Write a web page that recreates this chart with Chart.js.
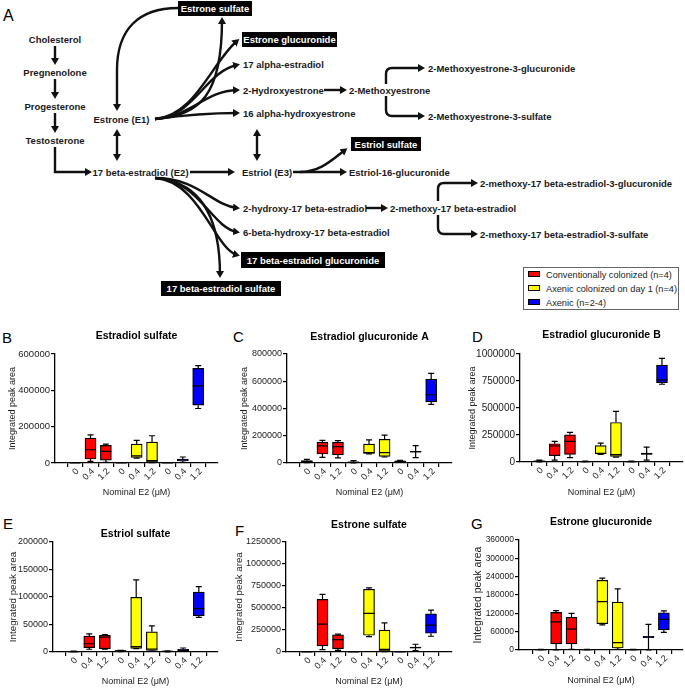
<!DOCTYPE html>
<html><head><meta charset="utf-8">
<script src="https://cdn.jsdelivr.net/npm/chart.js@4"></script>
<style>
html,body{margin:0;padding:0;background:#fff;}
#wrap{position:relative;width:685px;height:688px;overflow:hidden;font-family:"Liberation Sans",Arial,sans-serif;}
canvas{position:absolute;}
svg{position:absolute;left:0;top:0;}
.letter{position:absolute;color:#000;white-space:nowrap;}
#legend{position:absolute;left:523px;top:267px;width:156px;height:43px;border:1px solid #666;box-sizing:border-box;}
.li{position:absolute;left:4px;font-size:9.2px;color:#222;white-space:nowrap;line-height:11px;}
.sw{display:inline-block;width:10px;height:4px;border:1px solid #000;vertical-align:middle;margin-right:6px;position:relative;top:-1px;}
</style>
</head><body>
<div id="wrap">
<svg width="685" height="315" viewBox="0 0 685 315" font-family="Liberation Sans, Arial, sans-serif" font-weight="bold" font-size="9.5">
<defs>
<marker id="ah" viewBox="0 0 7 8" refX="4" refY="4" markerWidth="7" markerHeight="8" markerUnits="userSpaceOnUse" orient="auto-start-reverse">
<path d="M0,0 L7,4 L0,8 z" fill="#111"/>
</marker>
</defs>
<g fill="none" stroke="#111" stroke-width="2.4">
<path d="M55,46 L55,62" marker-end="url(#ah)"/>
<path d="M55,79 L55,96" marker-end="url(#ah)"/>
<path d="M55,113 L55,130" marker-end="url(#ah)"/>
<path d="M55,147 L55,172 L89,172" marker-end="url(#ah)"/>
<path d="M178,8 C138,8 117,30 117,70 L117,108" marker-end="url(#ah)"/>
<path d="M117,132 L117,158" marker-start="url(#ah)" marker-end="url(#ah)"/>
<path d="M155,119 C200,116 222,95 222,20" marker-end="url(#ah)"/>
<path d="M155,119 C195,116 212,62 237,41" marker-end="url(#ah)"/>
<path d="M155,119 C195,116 205,72 237,65" marker-end="url(#ah)"/>
<path d="M155,119 C192,116 205,91 237,90" marker-end="url(#ah)"/>
<path d="M155,119 C185,115 205,113 237,113" marker-end="url(#ah)"/>
<path d="M324,90 L344,90" marker-end="url(#ah)"/>
<path d="M386,84 L386,74 Q386,68 392,68 L422,68" marker-end="url(#ah)"/>
<path d="M386,96 L386,110 Q386,116 392,116 L422,116" marker-end="url(#ah)"/>
<path d="M257,132 L257,158" marker-start="url(#ah)" marker-end="url(#ah)"/>
<path d="M190,172 L232,172" marker-end="url(#ah)"/>
<path d="M293,172 L344,172" marker-end="url(#ah)"/>
<path d="M300,172 C320,172 332,160 345,150" marker-end="url(#ah)"/>
<path d="M155,178 C198,178 212,205 237,208" marker-end="url(#ah)"/>
<path d="M155,178 C198,179 212,228 237,232" marker-end="url(#ah)"/>
<path d="M155,178 C200,181 214,248 237,255" marker-end="url(#ah)"/>
<path d="M155,178 C205,182 220,225 220,275" marker-end="url(#ah)"/>
<path d="M366,208 L385,208" marker-end="url(#ah)"/>
<path d="M438,201 L438,189 Q438,183 444,183 L475,183" marker-end="url(#ah)"/>
<path d="M438,215 L438,228 Q438,234 444,234 L475,234" marker-end="url(#ah)"/>
</g>
<g fill="#1a1a1a" dominant-baseline="central">
<text x="55" y="39" text-anchor="middle">Cholesterol</text>
<text x="55" y="72" text-anchor="middle">Pregnenolone</text>
<text x="55" y="106" text-anchor="middle">Progesterone</text>
<text x="55" y="140" text-anchor="middle">Testosterone</text>
<text x="121.5" y="119" text-anchor="middle">Estrone (E1)</text>
<text x="243" y="64">17 alpha-estradiol</text>
<text x="243" y="90">2-Hydroxyestrone</text>
<text x="243" y="113">16 alpha-hydroxyestrone</text>
<text x="349" y="90">2-Methoxyestrone</text>
<text x="428" y="68">2-Methoxyestrone-3-glucuronide</text>
<text x="428" y="116">2-Methoxyestrone-3-sulfate</text>
<text x="140.5" y="172" text-anchor="middle">17 beta-estradiol (E2)</text>
<text x="242" y="172">Estriol (E3)</text>
<text x="349" y="172">Estriol-16-glucuronide</text>
<text x="243" y="208">2-hydroxy-17 beta-estradiol</text>
<text x="243" y="232">6-beta-hydroxy-17 beta-estradiol</text>
<text x="390" y="208">2-methoxy-17 beta-estradiol</text>
<text x="480" y="183">2-methoxy-17 beta-estradiol-3-glucuronide</text>
<text x="480" y="234">2-methoxy-17 beta-estradiol-3-sulfate</text>
</g>
<g fill="#000">
<rect x="178" y="1" width="74" height="15"/>
<rect x="242" y="32" width="95" height="15"/>
<rect x="351" y="137" width="70" height="14"/>
<rect x="241" y="252" width="144" height="16"/>
<rect x="161" y="281" width="120" height="15"/>
</g>
<g fill="#fff" dominant-baseline="central" text-anchor="middle">
<text x="215" y="8.5">Estrone sulfate</text>
<text x="289.5" y="39.5">Estrone glucuronide</text>
<text x="386" y="144">Estriol sulfate</text>
<text x="313" y="260">17 beta-estradiol glucuronide</text>
<text x="221" y="288.5">17 beta-estradiol sulfate</text>
</g>
</svg>
<div id="legend"></div>
</div>
<script>
// ---- data ----
const doses = ['0', '0.4', '1.2'];
const groups = ['Conventionally colonized (n=4)', 'Axenic colonized on day 1 (n=4)', 'Axenic (n=2-4)'];
const groupColors = ['#ff0000', '#ffff00', '#0000ff'];
const panelLetters = ['B', 'C', 'D', 'E', 'F', 'G'];
const panelTitles = ['Estradiol sulfate', 'Estradiol glucuronide A', 'Estradiol glucuronide B', 'Estriol sulfate', 'Estrone sulfate', 'Estrone glucuronide'];
const yMax = [600000, 800000, 1000000, 200000, 1250000, 360000];
const yStep = [200000, 200000, 250000, 50000, 250000, 60000];
// each box: [min, q1, median, q3, max]; order: 3 doses x 3 groups
const estradiolSulfate = [
  [0, 300, 800, 1300, 2500], [9000, 22000, 73000, 137000, 155000], [4000, 16000, 64000, 97000, 104000],
  [0, 300, 800, 1300, 2500], [27000, 31000, 40000, 104000, 124000], [2000, 5000, 13000, 115000, 150000],
  [0, 300, 800, 1300, 2500], [4000, 11000, 18000, 22000, 33000], [300000, 318000, 424000, 521000, 536000]];
const estradiolGlucuronideA = [
  [2000, 5000, 10000, 17000, 27000], [42000, 66000, 125000, 152000, 166000], [37000, 59000, 120000, 152000, 164000],
  [1000, 3000, 5000, 8000, 17000], [66000, 71000, 76000, 139000, 169000], [44000, 49000, 76000, 174000, 205000],
  [5000, 8000, 12000, 15000, 20000], [39000, 80000, 83000, 86000, 127000], [430000, 448000, 501000, 616000, 658000]];
const estradiolGlucuronideB = [
  [1000, 4000, 6000, 10000, 18000], [18000, 58000, 148000, 169000, 191000], [40000, 71000, 191000, 252000, 274000],
  [1000, 2000, 4000, 6000, 9000], [71000, 74000, 80000, 151000, 175000], [46000, 52000, 68000, 366000, 468000],
  [1000, 2000, 4000, 6000, 9000], [18000, 71000, 77000, 83000, 138000], [720000, 735000, 760000, 898000, 960000]];
const estriolSulfate = [
  [0, 300, 600, 900, 1500], [5000, 8000, 15000, 29000, 33000], [5000, 6000, 27000, 30500, 31500],
  [500, 1200, 2000, 2600, 3000], [6000, 6700, 9800, 99500, 131000], [1800, 3000, 5500, 36600, 47600],
  [0, 500, 1000, 1500, 2000], [1200, 2400, 3000, 4900, 7300], [63000, 66000, 79000, 109000, 119000]];
const estroneSulfate = [
  [0, 1000, 2000, 3000, 4000], [27000, 69000, 316000, 598000, 655000], [19000, 38000, 141000, 194000, 202000],
  [0, 1000, 2000, 3000, 4000], [175000, 190000, 438000, 713000, 728000], [4000, 11000, 30000, 248000, 332000],
  [0, 1000, 2000, 3000, 4000], [15000, 46000, 50000, 57000, 88000], [179000, 213000, 305000, 434000, 476000]];
const estroneGlucuronide = [
  [0, 300, 800, 1300, 2000], [0, 20000, 92000, 123000, 129000], [2000, 20000, 68000, 107000, 120000],
  [0, 300, 800, 1300, 2000], [82000, 86000, 158000, 228000, 235000], [2000, 6500, 24000, 157000, 200000],
  [0, 300, 800, 1300, 2000], [0, 40000, 42500, 45000, 84000], [58000, 66000, 100000, 122000, 128000]];
const panelData = [estradiolSulfate, estradiolGlucuronideA, estradiolGlucuronideB, estriolSulfate, estroneSulfate, estroneGlucuronide];

// ---- layout (pixel positions only) ----
const layouts = [
  {L:0,   yTitleX:13,  pl:55,  pr:218, pt:354, pb:463, titleY:336, xTitleY:493, tick:9.5, yt:9,   xmin:-0.72, xmax:8.7,  lx:2,   ly:337, lf:15},
  {L:228, yTitleX:245, pl:287, pr:452, pt:354, pb:463, titleY:337, xTitleY:493, tick:9,   yt:9,   xmin:-0.69, xmax:8.75, lx:233, ly:336, lf:15},
  {L:460, yTitleX:473, pl:520, pr:683, pt:354, pb:462, titleY:335, xTitleY:493, tick:10,  yt:9,   xmin:-0.67, xmax:8.78, lx:472, ly:336, lf:15},
  {L:0,   yTitleX:13,  pl:53,  pr:218, pt:542, pb:652, titleY:534, xTitleY:682, tick:9,   yt:9.8, xmin:-0.73, xmax:8.64, lx:3,   ly:523.5, lf:15},
  {L:228, yTitleX:239, pl:286, pr:452, pt:542, pb:652, titleY:525, xTitleY:682, tick:9,   yt:9.7, xmin:-0.76, xmax:8.76, lx:235, ly:530, lf:15},
  {L:460, yTitleX:478, pl:519, pr:683, pt:540, pb:650, titleY:522, xTitleY:681, tick:8.5, yt:10.5,xmin:-0.82, xmax:8.65, lx:471, ly:523, lf:15}
];

const FONT = '"Liberation Sans", Arial, sans-serif';
Chart.defaults.font.family = FONT;
const wrap = document.getElementById('wrap');

function addLetter(t, x, cy, f) {
  const d = document.createElement('div');
  d.className = 'letter';
  d.textContent = t;
  d.style.fontSize = f + 'px';
  d.style.lineHeight = f + 'px';
  d.style.left = x + 'px';
  d.style.top = (cy - f * 0.49) + 'px';
  wrap.appendChild(d);
}
addLetter('A', 3, 16, 16);

// legend
const leg = document.getElementById('legend');
groups.forEach((g, i) => {
  const d = document.createElement('div');
  d.className = 'li';
  d.style.top = (1.5 + i * 14) + 'px';
  d.innerHTML = '<span class="sw" style="background:' + groupColors[i] + '"></span>' + g;
  leg.appendChild(d);
});

const boxWhiskers = {
  id: 'boxWhiskers',
  afterDatasetsDraw(chart) {
    const {ctx} = chart;
    const ys = chart.scales.y;
    chart.data.datasets.forEach((ds, di) => {
      const meta = chart.getDatasetMeta(di);
      meta.data.forEach((bar, j) => {
        const s = ds.data[j].s;
        const p = s.map(v => ys.getPixelForValue(v));
        const x = bar.x, hw = bar.width / 2, cap = 3;
        ctx.save();
        ctx.strokeStyle = '#000';
        ctx.lineWidth = 1.2;
        ctx.beginPath();
        ctx.moveTo(x, p[3]); ctx.lineTo(x, p[4]);
        ctx.moveTo(x - cap, p[4]); ctx.lineTo(x + cap, p[4]);
        ctx.moveTo(x, p[1]); ctx.lineTo(x, p[0]);
        ctx.moveTo(x - cap, p[0]); ctx.lineTo(x + cap, p[0]);
        ctx.moveTo(x - hw, p[2]); ctx.lineTo(x + hw, p[2]);
        ctx.stroke();
        ctx.restore();
      });
    });
  }
};

// 45-degree dose labels placed at the x scale's own tick positions
const slantedTicks = {
  id: 'slantedTicks',
  afterDraw(chart) {
    const {ctx} = chart;
    const xs = chart.scales.x;
    ctx.save();
    ctx.fillStyle = '#222';
    ctx.font = '9px ' + FONT;
    ctx.textAlign = 'right';
    ctx.textBaseline = 'middle';
    xs.ticks.forEach((t) => {
      const x = xs.getPixelForValue(t.value);
      ctx.save();
      ctx.translate(x + 2.5, chart.chartArea.bottom + 7);
      ctx.rotate(-Math.PI / 4);
      ctx.fillText(doses[Math.round(t.value) % 3], 0, 0);
      ctx.restore();
    });
    ctx.restore();
  }
};

panelData.forEach((boxes, pi) => {
  const lay = layouts[pi];
  addLetter(panelLetters[pi], lay.lx, lay.ly, lay.lf);
  const titleLH = 10.5 * 1.2;
  const rawTop = lay.titleY - titleLH / 2;
  const T = Math.floor(rawTop);
  const xtLH = 9 * 1.2;
  const rawBottom = lay.xTitleY + xtLH / 2;
  const B = Math.ceil(rawBottom);
  const W = lay.pr + 2 - lay.L;
  const H = B - T;
  const cv = document.createElement('canvas');
  cv.width = W; cv.height = H;
  cv.style.left = lay.L + 'px';
  cv.style.top = T + 'px';
  cv.style.width = W + 'px';
  cv.style.height = H + 'px';
  wrap.appendChild(cv);

  const datasets = groups.map((g, gi) => ({
    label: g,
    data: doses.map((d, di) => {
      const idx = gi * 3 + di;
      const s = boxes[idx];
      return {x: idx, y: [s[1], s[3]], s: s};
    }),
    backgroundColor: groupColors[gi],
    borderColor: '#000',
    borderWidth: 1.2,
    borderSkipped: false,
    barThickness: 11,
    grouped: false
  }));

  new Chart(cv, {
    type: 'bar',
    data: {datasets},
    plugins: [boxWhiskers, slantedTicks],
    options: {
      responsive: false,
      animation: false,
      devicePixelRatio: 1,
      layout: {padding: {left: 0, right: 2, top: rawTop - T, bottom: 0}},
      plugins: {
        legend: {display: false},
        tooltip: {enabled: false},
        title: {
          display: true, text: panelTitles[pi], color: '#000', fullSize: false,
          font: {size: 10.5, weight: 'bold', family: FONT},
          padding: {top: 0, bottom: lay.pt - lay.titleY - titleLH / 2}
        }
      },
      scales: {
        x: {
          type: 'linear',
          min: lay.xmin, max: lay.xmax,
          afterBuildTicks: (s) => { s.ticks = Array.from({length: 9}, (_, i) => ({value: i})); },
          afterFit: (s) => { s.height = B - lay.pb; },
          ticks: {display: false},
          grid: {display: true, drawOnChartArea: false, drawTicks: true, tickLength: 4, color: '#000', lineWidth: 1.2},
          border: {display: true, color: '#000', width: 1.3},
          title: {display: true, text: 'Nominal E2 (\u03bcM)', color: '#222', font: {size: 9},
                  padding: {top: 0, bottom: B - rawBottom}}
        },
        y: {
          min: 0, max: yMax[pi],
          afterFit: (s) => { s.width = lay.pl - lay.L; },
          ticks: {stepSize: yStep[pi], color: '#222', padding: 1, font: {size: lay.tick},
                  callback: (v) => String(v)},
          grid: {display: true, drawOnChartArea: false, drawTicks: true, tickLength: 4, color: '#000', lineWidth: 1.2},
          border: {display: true, color: '#000', width: 1.3},
          title: {display: true, text: 'Integrated peak area', color: '#222', font: {size: lay.yt},
                  padding: {top: lay.yTitleX - lay.L - lay.yt * 0.6, bottom: 0}}
        }
      }
    }
  });
});
</script>
</body></html>
